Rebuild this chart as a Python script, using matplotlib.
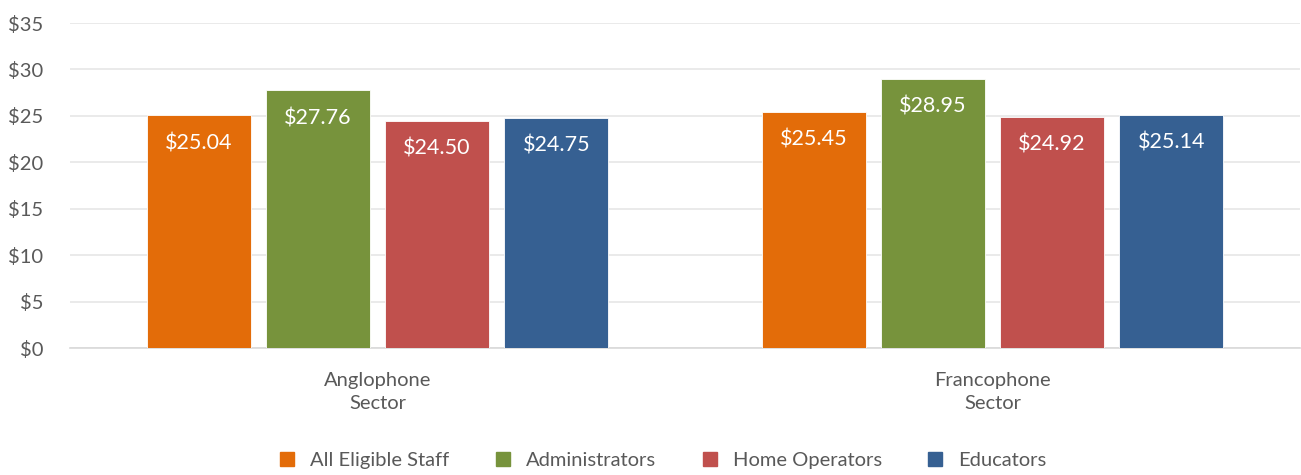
import numpy as np
import matplotlib.pyplot as plt
from matplotlib.patches import Patch

sectors = ['Anglophone\nSector', 'Francophone\nSector']
series = ['All Eligible Staff', 'Administrators', 'Home Operators', 'Educators']
all_staff = [25.04, 25.45]
admins = [27.76, 28.95]
home_ops = [24.50, 24.92]
educators = [24.75, 25.14]
colors = ['#E36C09', '#77933C', '#C0504D', '#366092']

plt.rcParams['font.family'] = ['Lato', 'DejaVu Sans']

fig = plt.figure(figsize=(13.01, 4.75), dpi=100)
ax = fig.add_axes([70 / 1301, 1 - 348 / 475, 1230 / 1301, 325 / 475])

x = np.arange(len(sectors))
width = 0.169
step = 0.194
values = [all_staff, admins, home_ops, educators]
for i, (name, vals, c) in enumerate(zip(series, values, colors)):
    pos = x + (i - 1.5) * step
    bars = ax.bar(pos, vals, width, color=c, edgecolor='white', linewidth=0.6, zorder=3, label=name)
    for b, v in zip(bars, vals):
        ax.annotate('${:.2f}'.format(v), (b.get_x() + b.get_width() / 2, v),
                    xytext=(0, -20), textcoords='offset points',
                    ha='center', va='center', color='white', fontsize=15.5, zorder=4)

ax.set_xlim(-0.5, 1.5)
ax.set_ylim(0, 35)
ax.set_yticks(range(0, 36, 5))
ax.set_yticklabels(['${}'.format(t) for t in range(0, 36, 5)])
ax.set_xticks(x)
ax.set_xticklabels(sectors, linespacing=1.45)
ax.grid(axis='y', color='#e6e6e6', linewidth=1.2, zorder=0)
for s in ['top', 'right', 'left']:
    ax.spines[s].set_visible(False)
ax.spines['bottom'].set_color('#d9d9d9')
ax.spines['bottom'].set_linewidth(1.2)
ax.tick_params(axis='both', length=0, colors='#595959', labelsize=14.5)
ax.tick_params(axis='x', pad=17)
ax.tick_params(axis='y', pad=19)

handles = [Patch(color=c, label=n) for n, c in zip(series, colors)]
fig.legend(handles=handles, loc='center', bbox_to_anchor=(0.51, 0.03), ncol=4,
           frameon=False, fontsize=14.5, handlelength=0.7, handleheight=0.7,
           columnspacing=2.3, handletextpad=0.8, labelcolor='#595959')

fig.savefig('out.png', dpi=100)
